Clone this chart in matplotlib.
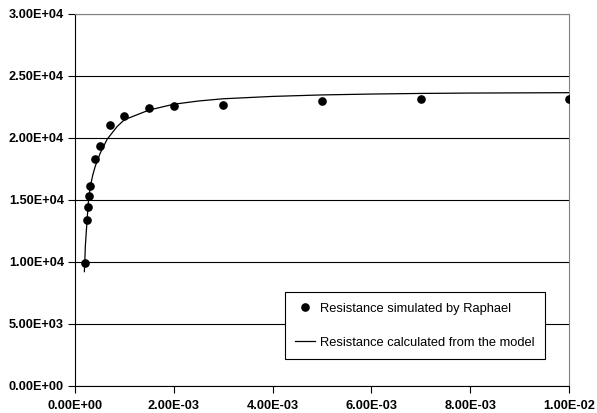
import matplotlib
matplotlib.use("Agg")
import matplotlib.pyplot as plt
from matplotlib.ticker import FuncFormatter

# Simulated points (Raphael)
sim_x = [0.00020, 0.00025, 0.00026, 0.00028, 0.00030, 0.00040, 0.00050,
         0.00070, 0.00100, 0.00150, 0.00200, 0.00300, 0.00500, 0.00700, 0.01000]
sim_y = [9900, 13400, 14400, 15300, 16100, 18300, 19330,
         21050, 21750, 22370, 22530, 22640, 22980, 23140, 23120]

# Model curve
mod_x = [0.00019, 0.00021, 0.00024, 0.00027, 0.00031, 0.00036, 0.00041, 0.00051,
         0.00065, 0.00085, 0.00100, 0.00150, 0.00200, 0.00250, 0.00300,
         0.00400, 0.00500, 0.00600, 0.00700, 0.00800, 0.01000]
mod_y = [9200, 11300, 13100, 14800, 16050, 17000, 17700, 18750,
         19870, 20890, 21450, 22230, 22700, 22960, 23140,
         23330, 23450, 23520, 23570, 23600, 23630]

x_ticks = [0, 0.002, 0.004, 0.006, 0.008, 0.010]
y_ticks = [0, 5000, 10000, 15000, 20000, 25000, 30000]

label_sim = "Resistance simulated by Raphael"
label_mod = "Resistance calculated from the model"

plt.rcParams['font.family'] = ['Liberation Sans', 'DejaVu Sans']

fig = plt.figure(figsize=(5.97, 4.13), dpi=100)
ax = fig.add_axes([75/597, 1-385.7/413, 494/597, 372/413])

ax.plot(mod_x, mod_y, color='black', lw=0.9, label=label_mod, zorder=3)
ax.plot(sim_x, sim_y, 'o', color='black', markersize=5.2, label=label_sim,
        linestyle='none', zorder=4)

ax.set_xlim(0, 0.01)
ax.set_ylim(0, 30000)
ax.set_xticks(x_ticks)
ax.set_yticks(y_ticks)

fmt = lambda v, p: "%.2E" % v
ax.xaxis.set_major_formatter(FuncFormatter(fmt))
ax.yaxis.set_major_formatter(FuncFormatter(fmt))

for lab in ax.get_xticklabels() + ax.get_yticklabels():
    lab.set_fontweight('bold')
    lab.set_fontsize(9.2)

ax.tick_params(axis='both', direction='out', length=5, width=0.8, color='black')
ax.tick_params(axis='x', pad=5)
ax.tick_params(axis='y', pad=3)

ax.yaxis.grid(True, color='black', lw=0.8)
ax.set_axisbelow(True)

ax.spines['left'].set_color('black')
ax.spines['bottom'].set_color('black')
ax.spines['top'].set_color('#808080')
ax.spines['right'].set_color('#808080')
for s in ax.spines.values():
    s.set_linewidth(0.8)

handles, labels = ax.get_legend_handles_labels()
order = [1, 0]
leg = ax.legend([handles[i] for i in order], [labels[i] for i in order],
                loc='lower left', bbox_to_anchor=(0.425, 0.0718),
                borderaxespad=0, prop={'size': 9.3}, frameon=True, fancybox=False,
                edgecolor='black', framealpha=1, borderpad=0.8,
                labelspacing=1.7, handlelength=1.5, handletextpad=0.4)
leg.get_frame().set_linewidth(0.8)

fig.savefig('out.png', dpi=100)
